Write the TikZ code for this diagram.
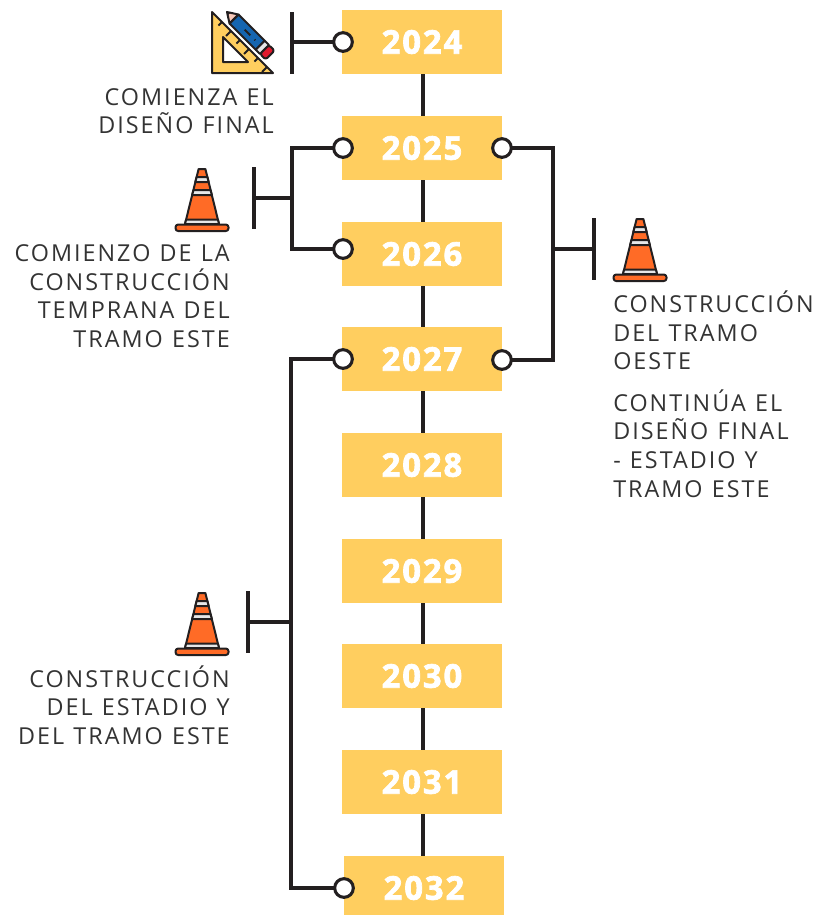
\documentclass[tikz,border=0pt]{standalone}
\usepackage{fontspec}
\setmainfont{Open Sans}[LetterSpace=8.6,WordSpace=1.14]
\newfontfamily\yearfont{Open Sans Bold}[FakeBold=2.2,LetterSpace=6]
\usetikzlibrary{backgrounds}
\definecolor{boxy}{HTML}{FFCE5F}
\definecolor{ink}{HTML}{231F20}
\definecolor{txt}{HTML}{333333}
\definecolor{conor}{HTML}{FF6B26}
\definecolor{cong}{HTML}{E6E7E8}
\definecolor{penb}{HTML}{1565B0}
\definecolor{penr}{HTML}{E0182D}
\definecolor{penp}{HTML}{F8C8B8}
\tikzset{
 x=0.75pt,y=-0.75pt,
 yearbox/.style={fill=boxy,minimum width=120pt,minimum height=48pt,inner sep=0pt,outer sep=0pt,text=white,font=\fontsize{24.5}{28}\yearfont},
 yeartext/.style={inner sep=0pt,text=white,font=\fontsize{24.5}{28}\yearfont},
 link/.style={draw=ink,line width=2.3pt},
 dot/.style={circle,draw=ink,fill=white,line width=2.3pt,minimum size=14pt,inner sep=0pt,outer sep=0pt},
 lbl/.style={inner sep=0pt,text=txt,font=\fontsize{17.5}{21.5}\selectfont},
 lblr/.style={lbl,align=right,anchor=east},
 lbll/.style={lbl,align=left,anchor=west},
 icon/.style={draw=ink,line width=1.5pt,line join=round},
}
\newcommand{\conepic}[2]{%
 \begin{scope}[shift={(#1,#2)}]
  \fill[conor,icon] (-3.4,-62) -- (3.4,-62) -- (17,-7) -- (-17,-7) -- cycle;
  \fill[cong,icon] (-5.4,-54) -- (5.4,-54) -- (6.6,-49) -- (-6.6,-49) -- cycle;
  \fill[cong,icon] (-8.6,-41) -- (8.6,-41) -- (9.8,-36) -- (-9.8,-36) -- cycle;
  \fill[cong,icon] (-15.9,-11.4) -- (15.9,-11.4) -- (17,-7) -- (-17,-7) -- cycle;
  \fill[conor,icon,rounded corners=2pt] (-26.5,-6.5) rectangle (26.5,0);
 \end{scope}}
\begin{document}
\begin{tikzpicture}
\useasboundingbox (0,0) rectangle (828,915);
% year boxes
\node[yearbox] (y2024) at (422,42) {2024};
\node[yearbox] (y2025) at (422,148) {2025};
\node[yearbox] (y2026) at (422,254) {2026};
\node[yearbox] (y2027) at (422,359) {2027};
\node[yearbox] (y2028) at (422,465) {2028};
\node[yearbox] (y2029) at (422,571) {2029};
\node[yearbox] (y2030) at (422,676) {2030};
\node[yearbox] (y2031) at (422,782) {2031};
\node[yearbox,minimum height=44.25pt] (y2032) at (424,885.5) {};
\node[yeartext] (t2032) at (424,888) {2032};
\begin{scope}[on background layer]
 \draw[link] ([xshift=0.75pt]y2024.south) -- ([xshift=0.75pt]y2024.south |- y2032.north);
\end{scope}
% dots
\node[dot] (d24) at (343,42) {};
\node[dot] (d25l) at (343,148) {};
\node[dot] (d26) at (343,249) {};
\node[dot] (d27l) at (343,359) {};
\node[dot] (d32) at (344,888) {};
\node[dot] (d25r) at (502,148) {};
\node[dot] (d27r) at (502,360) {};
% bars and junctions
\coordinate (b1a) at (292,12); \coordinate (b1b) at (292,74);
\coordinate (b1m) at (292,42);
\coordinate (b2a) at (254,167); \coordinate (b2b) at (254,229);
\coordinate (b2m) at (254,198); \coordinate (j2) at (292,198);
\coordinate (b3a) at (594,218); \coordinate (b3b) at (594,280);
\coordinate (b3m) at (594,249); \coordinate (j3) at (553,249);
\coordinate (b4a) at (248,591); \coordinate (b4b) at (248,653);
\coordinate (b4m) at (248,622); \coordinate (j4) at (291,622);
\draw[link] (b1a) -- (b1b);
\draw[link] (b1m) -- (d24);
\draw[link] (b2a) -- (b2b);
\draw[link] (b2m) -- (j2);
\draw[link] (d25l) -| (j2) |- (d26);
\draw[link] (b3a) -- (b3b);
\draw[link] (b3m) -- (j3);
\draw[link] (d25r) -| (j3) |- (d27r);
\draw[link] (b4a) -- (b4b);
\draw[link] (b4m) -- (j4);
\draw[link] (d27l) -| (j4) |- (d32);
% ruler
\fill[boxy,icon,even odd rule] (212,12) -- (273,73) -- (212,73) -- cycle (223,37) -- (248,62) -- (223,62) -- cycle;
\foreach \t/\l in {10/5,19/7,28/5,37/7,46/5,55/7}
  \draw[icon] (212+\t,12+\t) -- ++(-\l*.707,\l*.707);
% pencil
\begin{scope}[shift={(227,12)},rotate=-45]
 \fill[penp,icon] (0,0) -- (10,-6.4) -- (10,6.4) -- cycle;
 \fill[ink] (0,0) -- (3,-1.9) -- (3,1.9) -- cycle;
 \fill[penb,icon] (10,-6.4) rectangle (47,6.4);
 \draw[icon] (25,0) -- (33,0) (39,0) -- (40,0);
 \fill[cong,icon] (47,-6.4) rectangle (53,6.4);
 \fill[penr,icon,rounded corners=2pt] (53,-6.4) -- (61,-6.4) -- (61,6.4) -- (53,6.4) -- cycle;
\end{scope}
% cones
\conepic{202}{231}
\conepic{640}{281}
\conepic{202}{655}
% labels
\node[lblr] (l1) at (274,111) {COMIENZA EL\\DISEÑO FINAL};
\node[lblr] (l2) at (230,296) {COMIENZO DE LA\\CONSTRUCCIÓN\\TEMPRANA DEL\\TRAMO ESTE};
\node[lbll] (l3) at (613,330.5) {CONSTRUCCIÓN\\DEL TRAMO\\OESTE};
\node[lbll] (l4) at (613,443.5) {CONTINÚA EL\\DISEÑO FINAL\\- ESTADIO Y\\TRAMO ESTE};
\node[lblr] (l5) at (230,705) {CONSTRUCCIÓN\\DEL ESTADIO Y\\DEL TRAMO ESTE};
\end{tikzpicture}
\end{document}
